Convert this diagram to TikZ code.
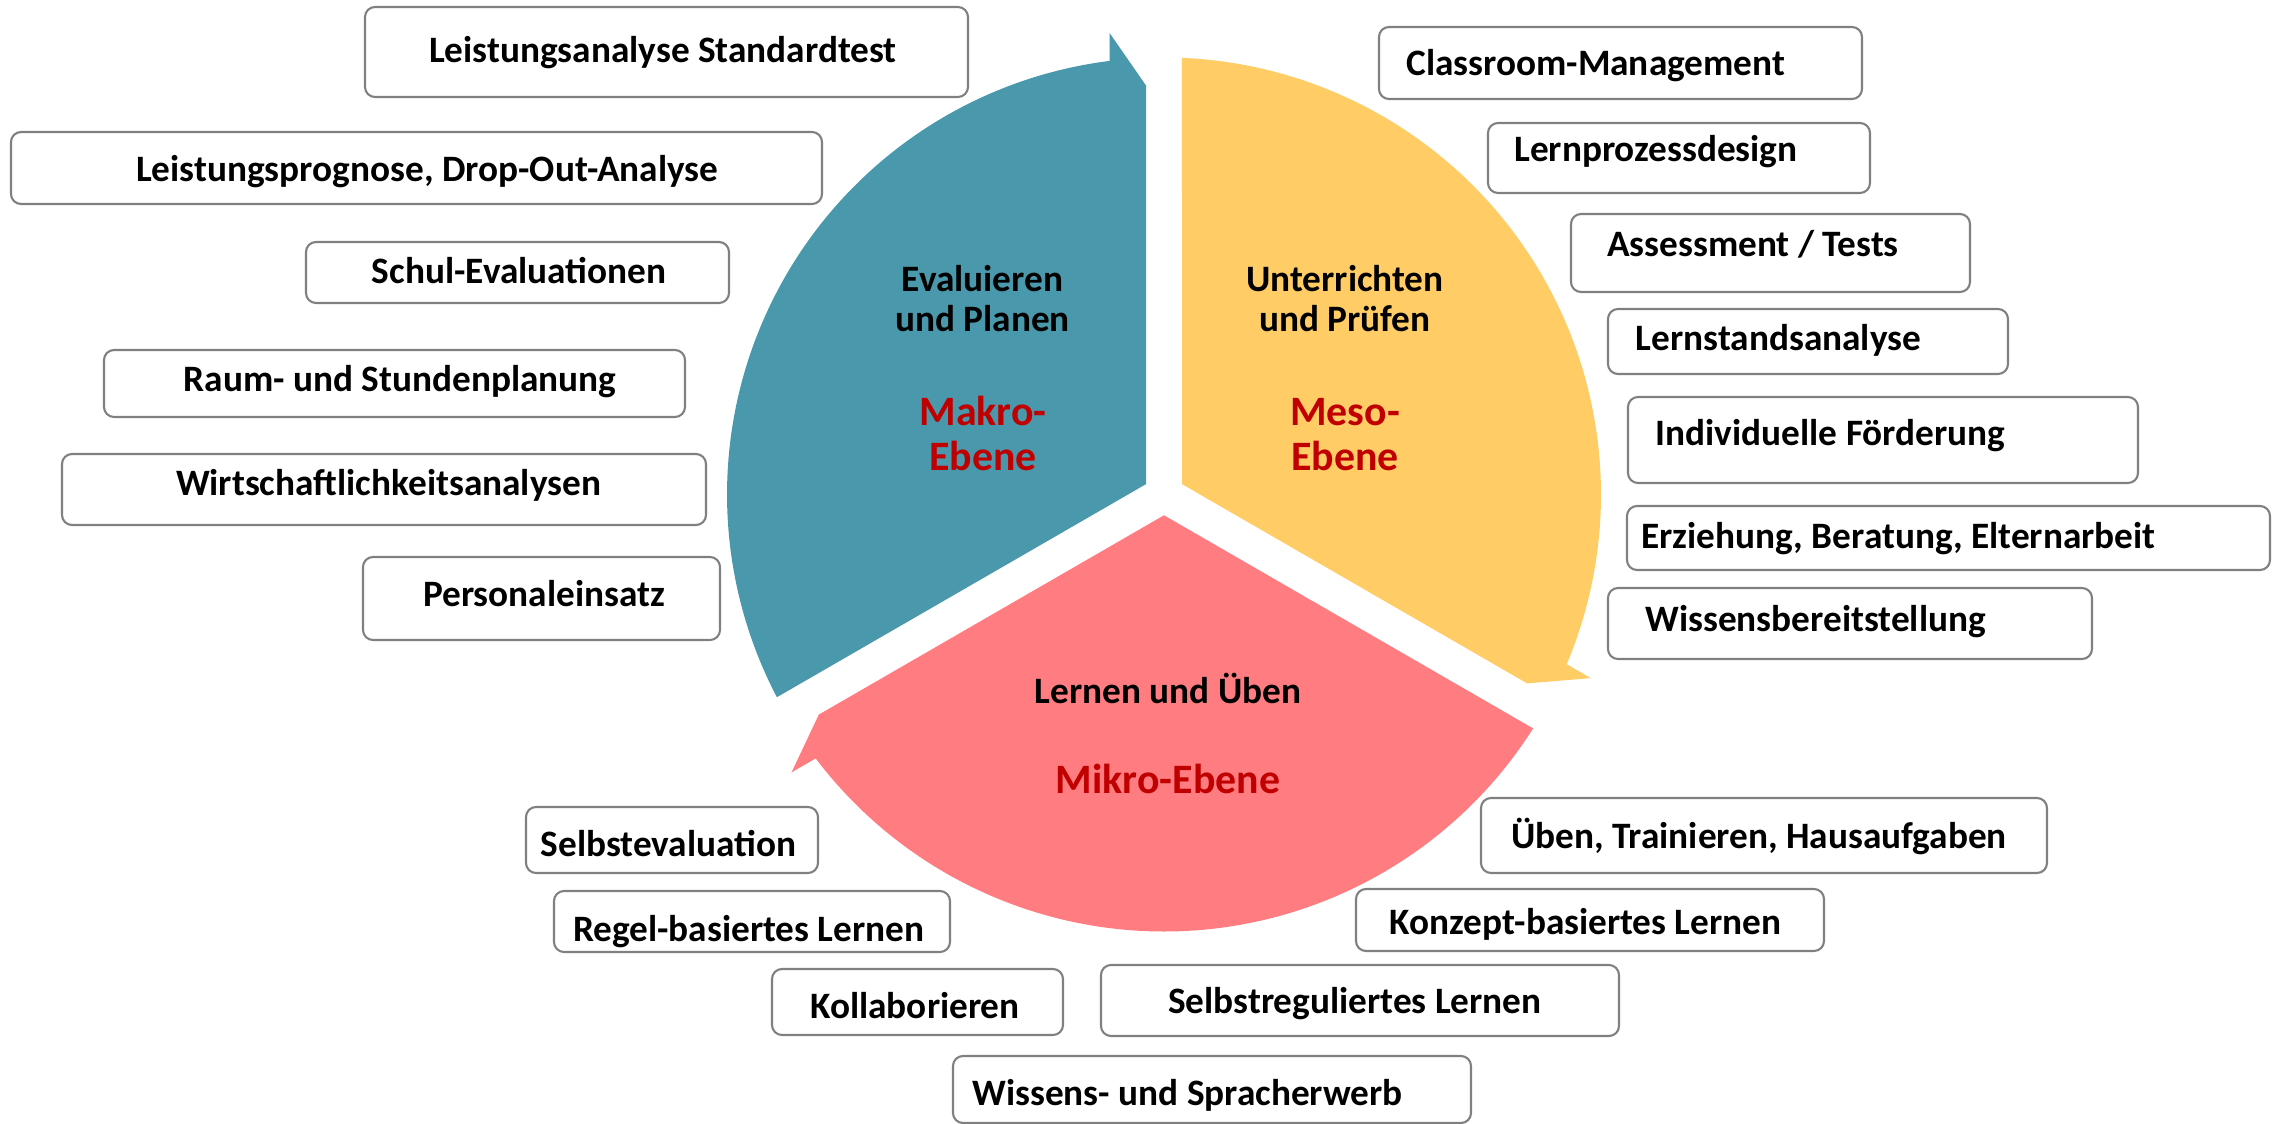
\documentclass[tikz,border=0pt]{standalone}
\usepackage{fontspec}
\setmainfont{Carlito}
\usetikzlibrary{fit}
\definecolor{cblue}{RGB}{74,152,171}
\definecolor{cyellow}{RGB}{255,204,102}
\definecolor{cpink}{RGB}{255,124,128}
\definecolor{cred}{RGB}{192,0,0}
\definecolor{cgray}{RGB}{128,128,128}
\begin{document}
\begin{tikzpicture}[x=0.01cm,y=-0.01cm,
  itembox/.style={draw=cgray, line width=0.6pt, rounded corners=0.1cm, fill=white, inner sep=0pt},
  itemtext/.style={anchor=base, inner sep=0pt, font=\fontsize{10.6}{12}\selectfont\bfseries},
  cyclelbl/.style={anchor=base, inner sep=0pt, font=\fontsize{10.6}{12}\selectfont\bfseries},
  levellbl/.style={anchor=base, inner sep=0pt, text=cred, font=\fontsize{11.9}{13}\selectfont\bfseries}]
\useasboundingbox (0,0) rectangle (2275,1124);

% circular arrow segments
\begin{scope}[shift={(1164,494.5)}, x=0.01cm, y=0.01cm]
  \fill[cblue] (150:20.78) -- (92.52:409.4) -- (96.72:464.6) -- (97.15:437)
     arc[start angle=97.15, end angle=207.64, radius=437] -- cycle;
  \fill[cyellow] (30:20.78) -- (-27.48:409.4) -- (-23.28:464.6) -- (-22.85:437)
     arc[start angle=-22.85, end angle=87.64, radius=437] -- cycle;
  \fill[cpink] (270:20.78) -- (212.52:409.4) -- (216.72:464.6) -- (217.15:437)
     arc[start angle=217.15, end angle=327.64, radius=437] -- cycle;
\end{scope}

% segment labels
\node[cyclelbl] (evA) at (982.5,291.7) {Evaluieren};
\node[cyclelbl] (evB) at (982.5,331.7) {und Planen};
\node[levellbl] (makA) at (983,425) {Makro-};
\node[levellbl] (makB) at (983,470) {Ebene};
\node[cyclelbl] (unA) at (1345,291.7) {Unterrichten};
\node[cyclelbl] (unB) at (1345,331.7) {und Prüfen};
\node[levellbl] (mesA) at (1345,425) {Meso-};
\node[levellbl] (mesB) at (1345,470) {Ebene};
\node[cyclelbl] (lern) at (1168,703.3) {Lernen und Üben};
\node[levellbl] (mik) at (1168,793.3) {Mikro-Ebene};

% boxes
\node[itembox, fit={(365,7) (968,97)}] (b1) {};
\node[itembox, fit={(11,132) (822,204)}] (b2) {};
\node[itembox, fit={(306,242) (729,303)}] (b3) {};
\node[itembox, fit={(104,350) (685,417)}] (b4) {};
\node[itembox, fit={(62,454) (706,525)}] (b5) {};
\node[itembox, fit={(363,557) (720,640)}] (b6) {};
\node[itembox, fit={(1379,27) (1862,99)}] (b7) {};
\node[itembox, fit={(1488,123) (1870,193)}] (b8) {};
\node[itembox, fit={(1571,214) (1970,292)}] (b9) {};
\node[itembox, fit={(1608,309) (2008,374)}] (b10) {};
\node[itembox, fit={(1628,397) (2138,483)}] (b11) {};
\node[itembox, fit={(1627,506) (2270,570)}] (b12) {};
\node[itembox, fit={(1608,588) (2092,659)}] (b13) {};
\node[itembox, fit={(526,807) (818,873)}] (b14) {};
\node[itembox, fit={(554,891) (950,952)}] (b15) {};
\node[itembox, fit={(772,969) (1063,1035)}] (b16) {};
\node[itembox, fit={(1101,965) (1619,1036)}] (b17) {};
\node[itembox, fit={(953,1056) (1471,1123)}] (b18) {};
\node[itembox, fit={(1481,798) (2047,873)}] (b19) {};
\node[itembox, fit={(1356,889) (1824,951)}] (b20) {};

% box texts
\node[itemtext] (t1) at (662.8,62) {Leistungsanalyse Standardtest};
\node[itemtext] (t2) at (427.3,181.7) {Leistungsprognose, Drop-Out-Analyse};
\node[itemtext] (t3) at (519.1,283.3) {Schul-Evaluationen};
\node[itemtext] (t4) at (399.9,391.7) {Raum- und Stundenplanung};
\node[itemtext] (t5) at (388.5,495) {Wirtschaftlichkeitsanalysen};
\node[itemtext] (t6) at (544.1,606.7) {Personaleinsatz};
\node[itemtext] (t7) at (1595.7,75) {Classroom-Management};
\node[itemtext] (t8) at (1656,161.7) {Lernprozessdesign};
\node[itemtext] (t9) at (1753,256.7) {Assessment / Tests};
\node[itemtext] (t10) at (1778.5,350.7) {Lernstandsanalyse};
\node[itemtext] (t11) at (1830.5,445) {Individuelle Förderung};
\node[itemtext] (t12) at (1898.5,548.3) {Erziehung, Beratung, Elternarbeit};
\node[itemtext] (t13) at (1815.7,631.7) {Wissensbereitstellung};
\node[itemtext] (t14) at (668.4,856.7) {Selbstevaluation};
\node[itemtext] (t15) at (748.7,941) {Regel-basiertes Lernen};
\node[itemtext] (t16) at (915,1018.3) {Kollaborieren};
\node[itemtext] (t17) at (1355,1013.3) {Selbstreguliertes Lernen};
\node[itemtext] (t18) at (1187.6,1105) {Wissens- und Spracherwerb};
\node[itemtext] (t19) at (1759,848.3) {Üben, Trainieren, Hausaufgaben};
\node[itemtext] (t20) at (1585.7,934) {Konzept-basiertes Lernen};
\end{tikzpicture}
\end{document}
